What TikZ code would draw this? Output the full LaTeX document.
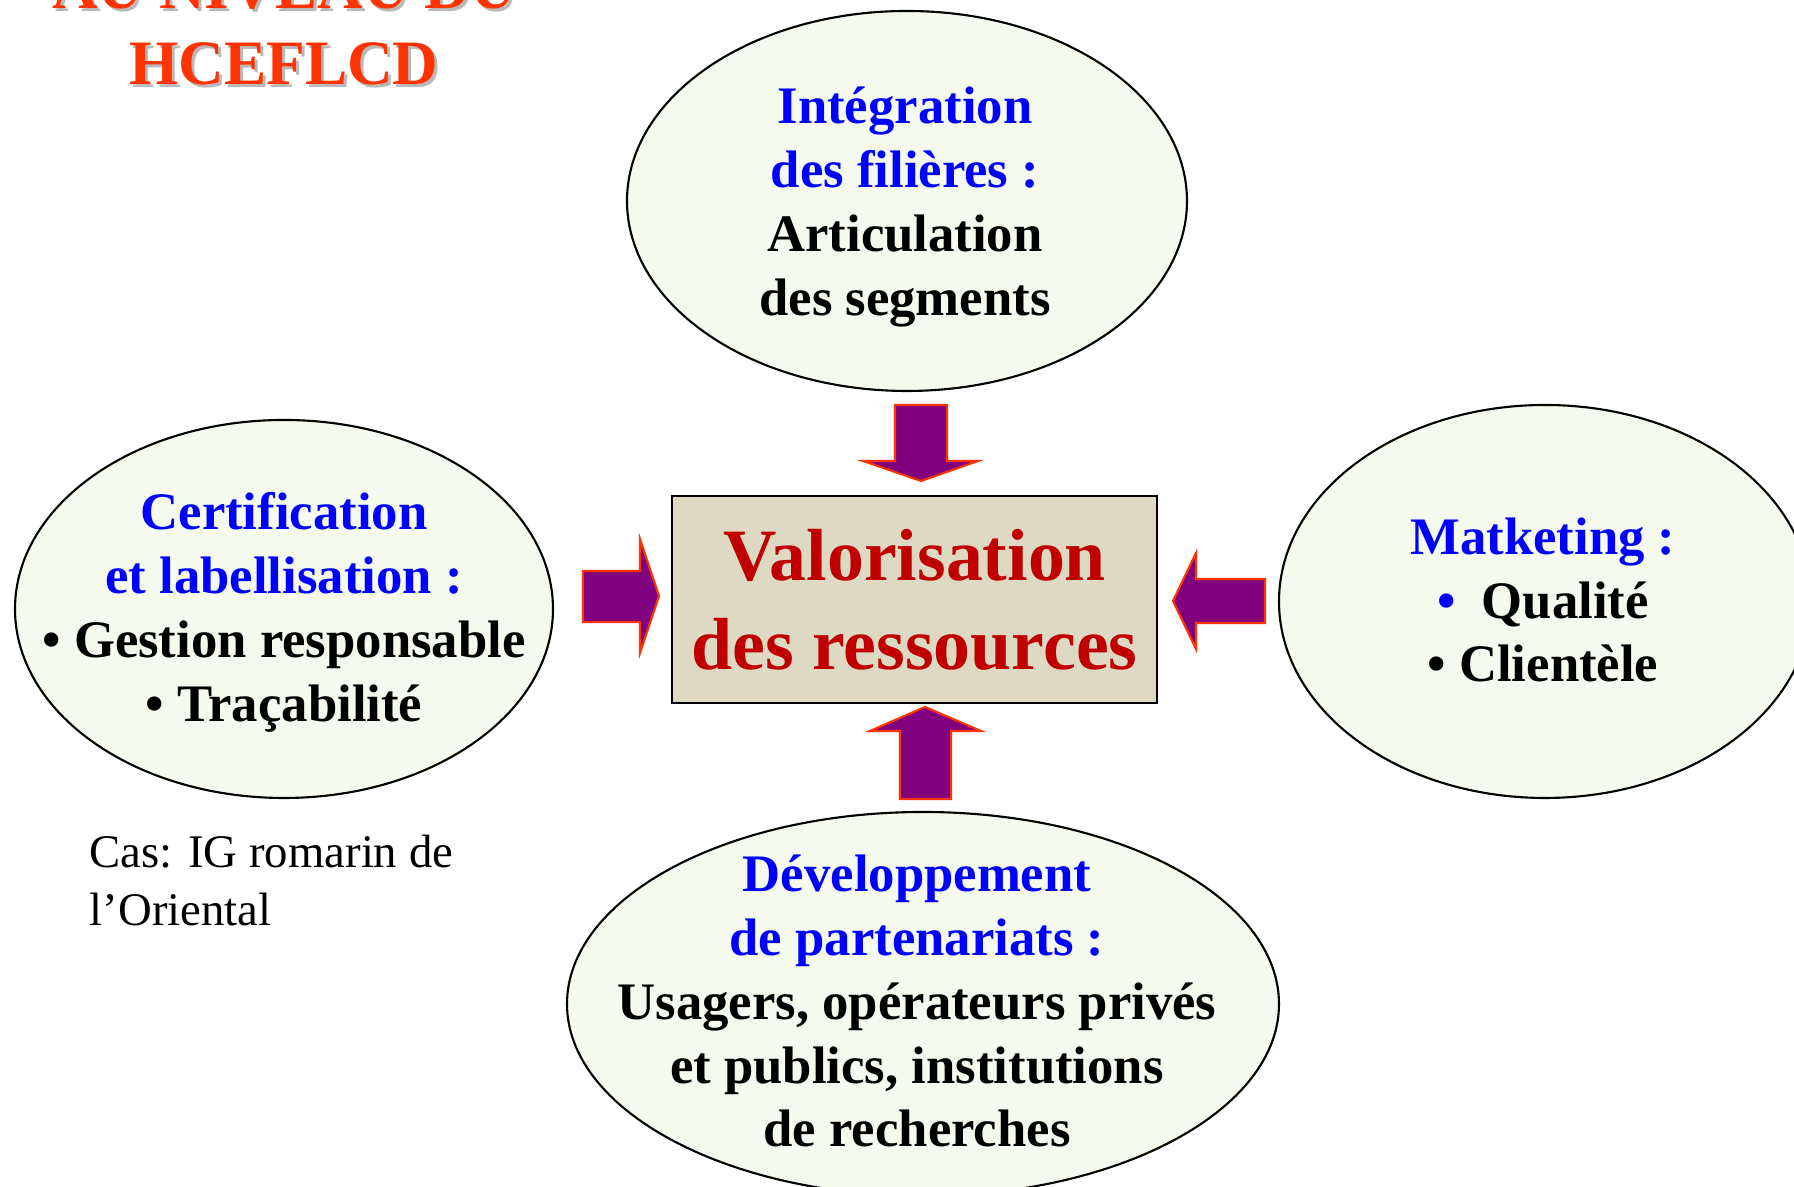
\documentclass[tikz,border=0pt]{standalone}
\usepackage{fontspec}
\setmainfont{Liberation Serif}
\usetikzlibrary{shapes.geometric}
\definecolor{tred}{HTML}{FF3300}
\definecolor{tblue}{HTML}{0000FF}
\definecolor{vred}{HTML}{C00000}
\definecolor{boxf}{HTML}{DDD9C3}
\definecolor{ellf}{HTML}{F4FAEE}
\definecolor{arrf}{HTML}{800080}

\begin{document}
\begin{tikzpicture}[
  bubble/.style={ellipse, draw, fill=ellf, line width=0.6pt, inner sep=0pt},
  bubtext/.style={align=center, inner sep=0pt, font=\fontsize{15}{18.2}\selectfont\bfseries},
  ttl/.style={align=center, inner sep=0pt, font=\fontsize{18}{21.6}\selectfont\bfseries},
  blkarrow/.style={draw=tred, fill=arrf, line width=0.6pt}]
\useasboundingbox (0,0) rectangle (17.94,11.87);

% title (cut at the top)
\node[ttl, gray!55] (titleshd) at (2.87,11.585) {AU NIVEAU DU\\HCEFLCD};
\node[ttl, tred] (title) at (2.84,11.615) {AU NIVEAU DU\\HCEFLCD};

\node[bubble, minimum width=5.6cm, minimum height=3.8cm] (integ) at (9.07,9.86) {};
\node[bubble, minimum width=5.38cm, minimum height=3.78cm] (certif) at (2.84,5.78) {};
\node[bubble, minimum width=5.32cm, minimum height=3.93cm] (market) at (15.45,5.855) {};
\node[bubble, minimum width=7.12cm, minimum height=3.84cm] (partn) at (9.23,1.83) {};

\node[bubtext] (integtxt) at (9.05,9.80) {\textcolor{tblue}{Intégration}\\\textcolor{tblue}{des filières :}\\Articulation\\des segments};
\node[bubtext] (certiftxt) at (2.84,5.745) {\textcolor{tblue}{Certification}\\\textcolor{tblue}{et labellisation :}\\• Gestion responsable\\• Traçabilité};
\node[bubtext] (markettxt) at (15.43,5.87) {\textcolor{tblue}{Matketing :}\\\textcolor{tblue}{•}\ \ Qualité\\• Clientèle};
\node[bubtext] (partntxt) at (9.17,1.86) {\textcolor{tblue}{Développement}\\\textcolor{tblue}{de partenariats :}\\Usagers, opérateurs privés\\et publics, institutions\\de recherches};

\node[draw, fill=boxf, line width=0.8pt, minimum width=4.85cm, minimum height=2.07cm, inner sep=0pt,
  align=center, text=vred, font=\fontsize{21}{25.3}\selectfont\bfseries] (valo) at (9.145,5.875) {Valorisation\\des ressources};

% block arrows
\draw[blkarrow] (8.95,7.82) -- (9.47,7.82) -- (9.47,7.26) -- (9.78,7.26) -- (9.21,7.06) -- (8.63,7.26) -- (8.95,7.26) -- cycle;
\draw[blkarrow] (5.83,6.16) -- (6.40,6.16) -- (6.40,6.48) -- (6.59,5.91) -- (6.40,5.34) -- (6.40,5.65) -- (5.83,5.65) -- cycle;
\draw[blkarrow] (12.65,6.08) -- (11.96,6.08) -- (11.96,6.34) -- (11.73,5.86) -- (11.96,5.38) -- (11.96,5.64) -- (12.65,5.64) -- cycle;
\draw[blkarrow] (9.00,3.88) -- (9.51,3.88) -- (9.51,4.56) -- (9.81,4.56) -- (9.25,4.80) -- (8.70,4.56) -- (9.00,4.56) -- cycle;

\node[align=left, anchor=north west, inner sep=0pt, font=\fontsize{13.3}{16.5}\selectfont] (cas) at (0.89,3.53) {Cas: IG romarin de\\l’Oriental};
\end{tikzpicture}
\end{document}
